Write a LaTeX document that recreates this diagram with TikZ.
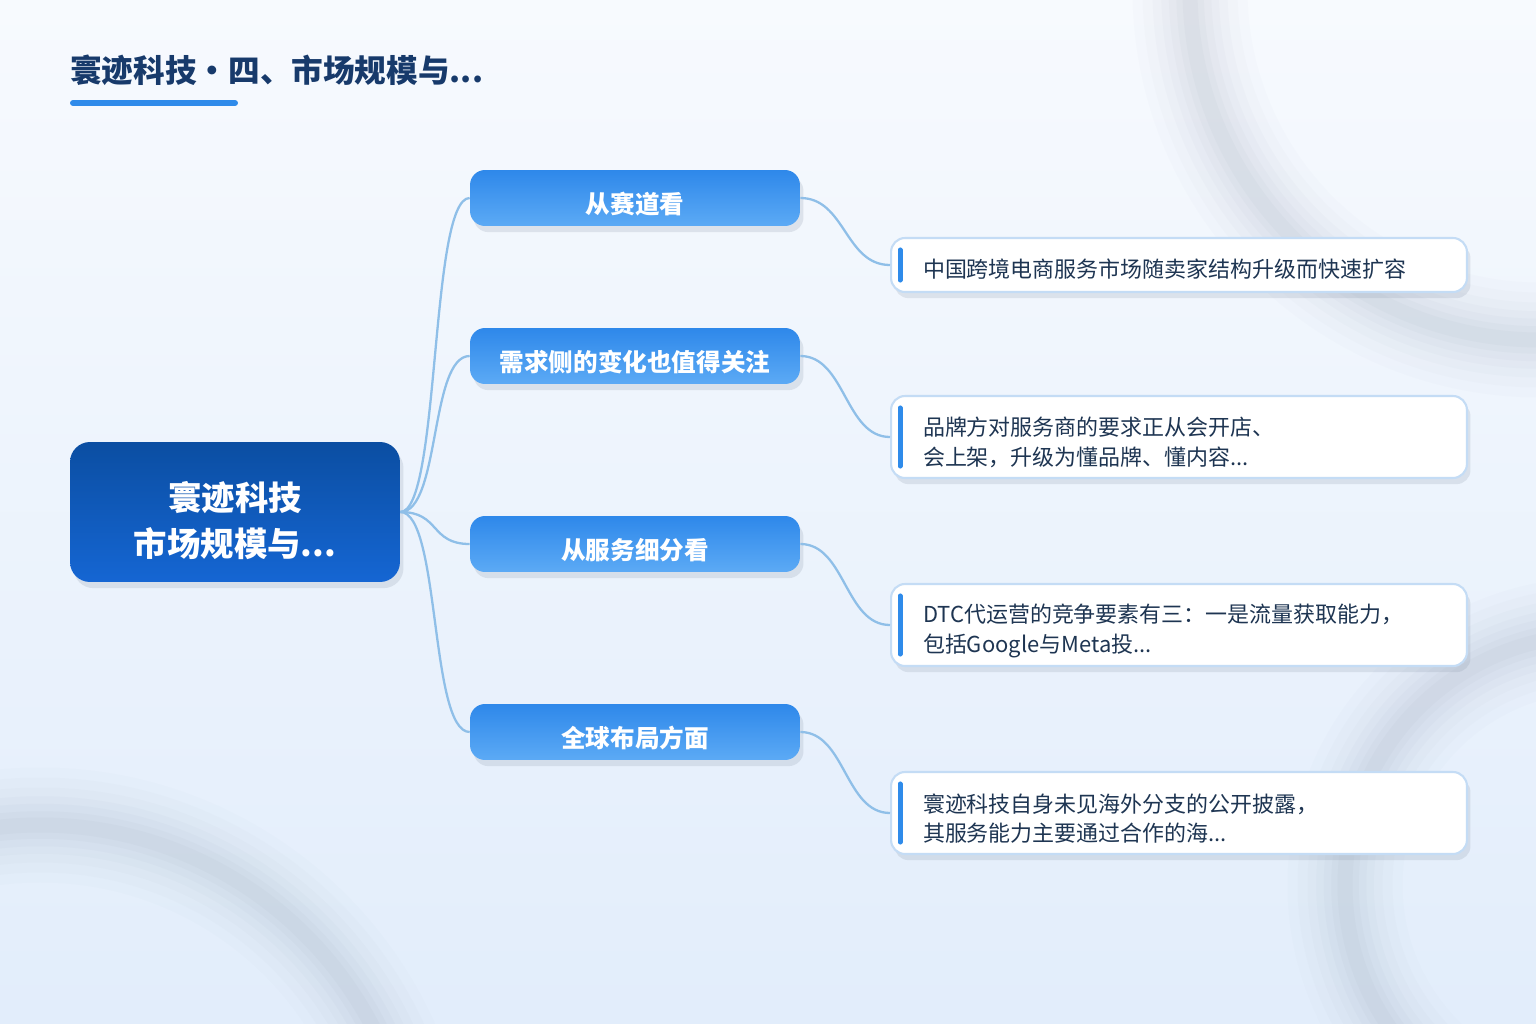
\documentclass[tikz,border=0pt]{standalone}
\usepackage{fontspec}
\setmainfont{Noto Sans CJK SC}
\usetikzlibrary{shadows}
\definecolor{bgtop}{HTML}{F7FAFE}
\definecolor{bgbot}{HTML}{E2EDFB}
\definecolor{ringgray}{HTML}{8E9BAD}
\definecolor{navy}{HTML}{173A6B}
\definecolor{accent}{HTML}{2F8BEA}
\definecolor{roota}{HTML}{0B4EA2}
\definecolor{rootb}{HTML}{1566D3}
\definecolor{brancha}{HTML}{2E88EA}
\definecolor{branchb}{HTML}{5CAAF5}
\definecolor{linkblue}{HTML}{8FBFE8}
\definecolor{leafline}{HTML}{C4DCF5}
\definecolor{leaftext}{HTML}{1E3552}
\begin{document}
\begin{tikzpicture}[x=0.02cm, y=-0.02cm,
  shade box/.style={drop shadow={shadow xshift=2pt,shadow yshift=-3.5pt,opacity=.22,fill=ringgray}},
  root node/.style={rectangle,rounded corners=0.4cm,minimum width=6.6cm,minimum height=2.8cm,top color=roota,bottom color=rootb,text=white,align=center,text height=52pt,font=\fontsize{19}{26}\selectfont\bfseries,shade box},
  branch node/.style={rectangle,rounded corners=0.3cm,minimum width=6.6cm,minimum height=1.12cm,top color=brancha,bottom color=branchb,text=white,text height=19pt,font=\fontsize{14}{17}\selectfont\bfseries,shade box},
  leaf node/.style={rectangle,rounded corners=0.28cm,draw=leafline,line width=1.2pt,fill=white,anchor=west,text width=10.24cm,inner xsep=0.64cm,inner ysep=0pt,align=left,text=leaftext,font=\fontsize{12.5}{17}\selectfont,shade box},
  link/.style={draw=linkblue,line width=1.3pt},
  bar/.style={draw=accent,line width=0.1cm,line cap=round}]
% background
\useasboundingbox (0,0) rectangle (1536,1024);
\shade[top color=bgtop,bottom color=bgbot] (0,0) rectangle (1536,1024);
\begin{scope}
\clip (0,0) rectangle (1536,1024);
\foreach \w/\o in {2.3/.024,1.9/.028,1.5/.034,1.15/.04,0.85/.045,0.55/.05,0.3/.055}{
  \draw[ringgray,line width=\w cm,opacity=\o] (1540,-10) circle[radius=350];
  \draw[ringgray,line width=\w cm,opacity=\o] (40,1200) circle[radius=375];
  \draw[ringgray,line width=\w cm,opacity=\o] (1595,885) circle[radius=250];
}
\end{scope}
% title
\node[anchor=west,inner sep=0pt,text=navy,font=\fontsize{18}{22}\selectfont\bfseries] (title) at (70,70) {寰迹科技・四、市场规模与...};
\draw[accent,line width=0.12cm,line cap=round] (73,103) -- (235,103);
% nodes
\node[root node] (r) at (235,512) {寰迹科技\\市场规模与...};
\node[branch node] (b1) at (635,198) {从赛道看};
\node[branch node] (b2) at (635,356) {需求侧的变化也值得关注};
\node[branch node] (b3) at (635,544) {从服务细分看};
\node[branch node] (b4) at (635,732) {全球布局方面};
\node[leaf node,minimum height=1.08cm,text height=15pt] (l1) at (890,265) {中国跨境电商服务市场随卖家结构升级而快速扩容};
\node[leaf node,minimum height=1.64cm,text height=17pt] (l2) at (890,437) {品牌方对服务商的要求正从会开店、\\会上架，升级为懂品牌、懂内容...};
\node[leaf node,minimum height=1.64cm,text height=17pt] (l3) at (890,625) {DTC代运营的竞争要素有三：一是流量获取能力，\\包括Google与Meta投...};
\node[leaf node,minimum height=1.64cm,text height=17pt] (l4) at (890,813) {寰迹科技自身未见海外分支的公开披露，\\其服务能力主要通过合作的海...};
% accent bars
\draw[bar] ([shift={(10,13)}]l1.north west) -- ([shift={(10,-13)}]l1.south west);
\draw[bar] ([shift={(10,13)}]l2.north west) -- ([shift={(10,-13)}]l2.south west);
\draw[bar] ([shift={(10,13)}]l3.north west) -- ([shift={(10,-13)}]l3.south west);
\draw[bar] ([shift={(10,13)}]l4.north west) -- ([shift={(10,-13)}]l4.south west);
% links
\begin{scope}[link]
\draw (r.east) .. controls +(40,0) and +(-40,0) .. (b1.west);
\draw (r.east) .. controls +(40,0) and +(-40,0) .. (b2.west);
\draw (r.east) .. controls +(40,0) and +(-40,0) .. (b3.west);
\draw (r.east) .. controls +(40,0) and +(-40,0) .. (b4.west);
\draw (b1.east) .. controls +(45,0) and +(-45,0) .. (l1.west);
\draw (b2.east) .. controls +(45,0) and +(-45,0) .. (l2.west);
\draw (b3.east) .. controls +(45,0) and +(-45,0) .. (l3.west);
\draw (b4.east) .. controls +(45,0) and +(-45,0) .. (l4.west);
\end{scope}
\end{tikzpicture}
\end{document}
